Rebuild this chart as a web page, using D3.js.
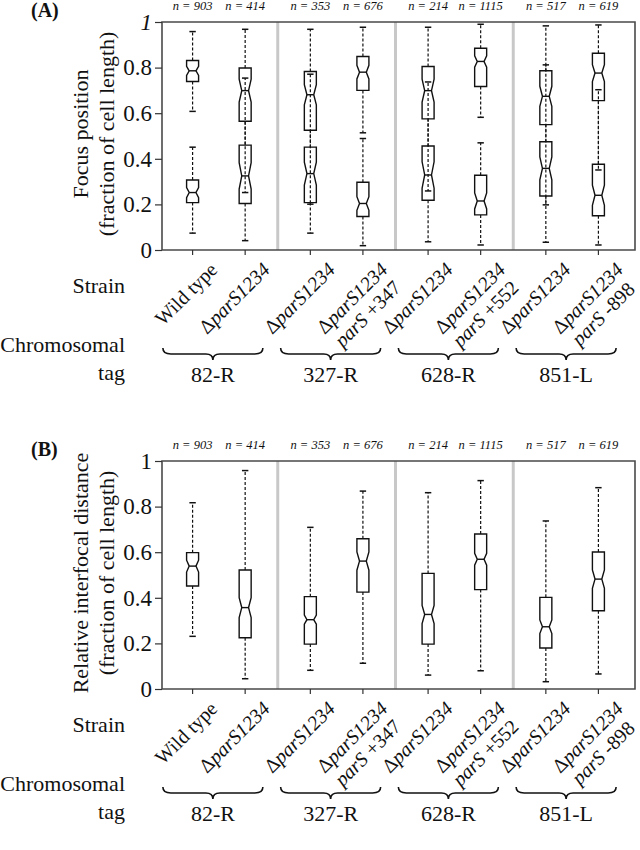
<!DOCTYPE html>
<html><head><meta charset="utf-8">
<script src="https://cdn.jsdelivr.net/npm/d3@7"></script>
<style>
body{margin:0;background:#fff}
text{font-family:"Liberation Serif","Times New Roman",Times,serif;fill:#111}
</style>
</head><body>
<svg id="chart" width="640" height="850"></svg>
<script>
// ---------------- DATA ----------------
const groups = ["82-R", "327-R", "628-R", "851-L"];
const strainGroup = [0, 0, 1, 1, 2, 2, 3, 3];
const strainLabels = [
  ["Wild type"],
  ["Δ*parS1234*"],
  ["Δ*parS1234*"],
  ["Δ*parS1234*", "*parS* +347"],
  ["Δ*parS1234*"],
  ["Δ*parS1234*", "*parS* +552"],
  ["Δ*parS1234*"],
  ["Δ*parS1234*", "*parS* -898"]
];
const nCounts = [903, 414, 353, 676, 214, 1115, 517, 619];
const yTicks = [0, 0.2, 0.4, 0.6, 0.8, 1];
const yTickLabels = ["0", "0.2", "0.4", "0.6", "0.8", "1"];

// Panel A — upper focus
const aUpHi    = [0.958, 0.968, 0.968, 0.977, 0.977, 0.990, 0.983, 0.987];
const aUpQ3    = [0.831, 0.798, 0.783, 0.849, 0.805, 0.885, 0.786, 0.863];
const aUpMed   = [0.786, 0.699, 0.681, 0.780, 0.699, 0.827, 0.674, 0.776];
const aUpQ1    = [0.739, 0.565, 0.525, 0.700, 0.575, 0.717, 0.550, 0.655];
const aUpLo    = [0.608, 0.252, 0.201, 0.514, 0.259, 0.582, 0.198, 0.351];
const aUpNotch = [0.020, 0.050, 0.044, 0.030, 0.050, 0.025, 0.044, 0.037];
// Panel A — lower focus
const aLoHi    = [0.451, 0.754, 0.771, 0.489, 0.737, 0.470, 0.812, 0.703];
const aLoQ3    = [0.307, 0.460, 0.451, 0.297, 0.456, 0.328, 0.475, 0.376];
const aLoMed   = [0.252, 0.325, 0.335, 0.204, 0.329, 0.215, 0.358, 0.240];
const aLoQ1    = [0.208, 0.204, 0.208, 0.147, 0.218, 0.154, 0.237, 0.150];
const aLoLo    = [0.074, 0.041, 0.074, 0.019, 0.036, 0.022, 0.034, 0.022];
const aLoNotch = [0.022, 0.058, 0.050, 0.030, 0.058, 0.035, 0.050, 0.044];
// Panel B — relative interfocal distance
const bHi    = [0.817, 0.958, 0.709, 0.868, 0.861, 0.914, 0.737, 0.883];
const bQ3    = [0.598, 0.522, 0.405, 0.659, 0.507, 0.680, 0.402, 0.601];
const bMed   = [0.539, 0.357, 0.304, 0.561, 0.327, 0.569, 0.273, 0.482];
const bQ1    = [0.452, 0.225, 0.197, 0.425, 0.197, 0.436, 0.180, 0.343];
const bLo    = [0.231, 0.045, 0.082, 0.113, 0.061, 0.080, 0.032, 0.066];
const bNotch = [0.026, 0.044, 0.020, 0.040, 0.040, 0.026, 0.030, 0.040];

// ---------------- LAYOUT ----------------
const svg = d3.select("#chart");
const plotLeft = 162, plotRight = 635;
const xGroup = d3.scaleBand().domain(groups).range([160, 631]).padding(0);
const xInner = d3.scalePoint().domain([0, 1]).range([0, xGroup.bandwidth()]).padding(0.62);
const xPos = i => xGroup(groups[strainGroup[i]]) + xInner(i % 2);

function build(hi, q3, med, q1, lo, notch) {
  return hi.map((d, i) => ({i, hi: hi[i], q3: q3[i], med: med[i], q1: q1[i], lo: lo[i], notch: notch[i]}));
}

function richText(sel, markup) {
  markup.split("*").forEach((part, k) => {
    if (!part) return;
    sel.append("tspan").attr("font-style", k % 2 ? "italic" : "normal").text(part);
  });
}

function drawPanel(cfg) {
  const g = svg.append("g");
  const top = cfg.top, bottom = cfg.bottom;
  const y = d3.scaleLinear().domain([0, 1]).range([bottom, top]);

  // group separators
  g.selectAll("line.sep").data(groups.slice(1)).join("line")
    .attr("x1", d => xGroup(d)).attr("x2", d => xGroup(d))
    .attr("y1", top).attr("y2", bottom)
    .attr("stroke", "#c8c8c8").attr("stroke-width", 3);

  // frame
  g.append("path")
    .attr("d", `M${plotLeft},${bottom}V${top}H${plotRight}V${bottom}H${plotLeft}`)
    .attr("fill", "none").attr("stroke", "#4a4a4a").attr("stroke-width", 1.6);

  // y axis
  const yAxis = d3.axisLeft(y).tickValues(yTicks)
    .tickFormat((d, k) => yTickLabels[k]).tickSize(7).tickPadding(3).tickSizeOuter(0);
  const ya = g.append("g").attr("transform", `translate(${plotLeft},0)`).call(yAxis);
  ya.attr("font-family", null);
  ya.select(".domain").remove();
  ya.selectAll("line").attr("stroke", "#333").attr("stroke-width", 1.2);
  ya.selectAll("text").attr("font-size", 23)
    .attr("fill", "#111")
    .attr("font-style", d => (cfg.italicOne && d === 1) ? "italic" : "normal");

  // x ticks
  g.selectAll("line.xt").data(d3.range(8)).join("line")
    .attr("x1", xPos).attr("x2", xPos).attr("y1", bottom).attr("y2", bottom + 5)
    .attr("stroke", "#333").attr("stroke-width", 1.2);

  // n labels
  g.selectAll("text.n").data(nCounts).join("text")
    .attr("x", (d, i) => xPos(i)).attr("y", top - 12.5)
    .attr("text-anchor", "middle").attr("font-size", 12.5).attr("font-style", "italic")
    .text(d => `n = ${d}`);

  // panel tag
  g.append("text").attr("x", 31).attr("y", top - 5).attr("font-size", 20)
    .attr("font-weight", "bold").text(cfg.tag);

  // y label
  const cy = (top + bottom) / 2 - 2;
  const yl = g.append("g").attr("transform", `translate(88,${cy}) rotate(-90)`);
  cfg.yLabel.forEach((t, k) => {
    yl.append("text").attr("x", 0).attr("y", k * 26).attr("text-anchor", "middle")
      .attr("font-size", 22).text(t);
  });

  // boxes
  const bw = 12, inset = 2.6, cap = 3.2;
  cfg.series.forEach(series => {
    const bg = g.append("g");
    series.forEach(d => {
      const cx = xPos(d.i);
      [[d.q3, d.hi], [d.q1, d.lo]].forEach(([a, b]) => {
        bg.append("line").attr("x1", cx).attr("x2", cx).attr("y1", y(a)).attr("y2", y(b))
          .attr("stroke", "#111").attr("stroke-width", 1.2).attr("stroke-dasharray", "3,2");
        bg.append("line").attr("x1", cx - cap).attr("x2", cx + cap).attr("y1", y(b)).attr("y2", y(b))
          .attr("stroke", "#111").attr("stroke-width", 1.5);
      });
    });
    bg.selectAll("path.box").data(series).join("path")
      .attr("d", d => {
        const cx = xPos(d.i), x0 = cx - bw / 2, x1 = cx + bw / 2;
        const nLo = Math.max(d.q1, d.med - d.notch), nHi = Math.min(d.q3, d.med + d.notch);
        return `M${x0},${y(d.q1)}L${x0},${y(nLo)}L${x0 + inset},${y(d.med)}L${x0},${y(nHi)}L${x0},${y(d.q3)}` +
               `L${x1},${y(d.q3)}L${x1},${y(nHi)}L${x1 - inset},${y(d.med)}L${x1},${y(nLo)}L${x1},${y(d.q1)}Z`;
      })
      .attr("fill", "none").attr("stroke", "#111").attr("stroke-width", 1.4);
    bg.selectAll("line.med").data(series).join("line")
      .attr("x1", d => xPos(d.i) - bw / 2 + inset).attr("x2", d => xPos(d.i) + bw / 2 - inset)
      .attr("y1", d => y(d.med)).attr("y2", d => y(d.med))
      .attr("stroke", "#111").attr("stroke-width", 1.4);
  });

  // strain labels (rotated)
  strainLabels.forEach((lines, i) => {
    const lg = g.append("g").attr("transform", `translate(${xPos(i) + 26},${bottom + 21}) rotate(-45)`);
    const t1 = lg.append("text").attr("x", 0).attr("y", 0).attr("text-anchor", "end").attr("font-size", 20);
    richText(t1, lines[0]);
    const w1 = t1.node().getComputedTextLength();
    lines.slice(1).forEach((ln, k) => {
      const t2 = lg.append("text").attr("x", -w1 / 2).attr("y", 22 * (k + 1))
        .attr("text-anchor", "middle").attr("font-size", 20);
      richText(t2, ln);
    });
  });

  // row titles
  g.append("text").attr("x", 125).attr("y", bottom + 43).attr("text-anchor", "end")
    .attr("font-size", 22).text("Strain");
  g.append("text").attr("x", 125).attr("y", bottom + 102).attr("text-anchor", "end")
    .attr("font-size", 22).text("Chromosomal");
  g.append("text").attr("x", 125).attr("y", bottom + 130).attr("text-anchor", "end")
    .attr("font-size", 22).text("tag");

  // braces + group labels
  groups.forEach((grp, gi) => {
    const cx = (xPos(2 * gi) + xPos(2 * gi + 1)) / 2 - 6;
    const half = 50, bt = bottom + 98, h = 6;
    const x0 = cx - half, x1 = cx + half;
    const d = `M${x0},${bt}Q${x0},${bt + h} ${x0 + 8},${bt + h}L${cx - 7},${bt + h}Q${cx},${bt + h} ${cx},${bt + 2 * h}` +
              `Q${cx},${bt + h} ${cx + 7},${bt + h}L${x1 - 8},${bt + h}Q${x1},${bt + h} ${x1},${bt}`;
    g.append("path").attr("d", d).attr("fill", "none").attr("stroke", "#111").attr("stroke-width", 1.6);
    g.append("text").attr("x", cx).attr("y", bottom + 132).attr("text-anchor", "middle")
      .attr("font-size", 22).text(grp);
  });
}

drawPanel({
  top: 22, bottom: 250, tag: "(A)", italicOne: true,
  yLabel: ["Focus position", "(fraction of cell length)"],
  series: [build(aUpHi, aUpQ3, aUpMed, aUpQ1, aUpLo, aUpNotch),
           build(aLoHi, aLoQ3, aLoMed, aLoQ1, aLoLo, aLoNotch)]
});
drawPanel({
  top: 461, bottom: 689, tag: "(B)", italicOne: false,
  yLabel: ["Relative interfocal distance", "(fraction of cell length)"],
  series: [build(bHi, bQ3, bMed, bQ1, bLo, bNotch)]
});
</script>
</body></html>
